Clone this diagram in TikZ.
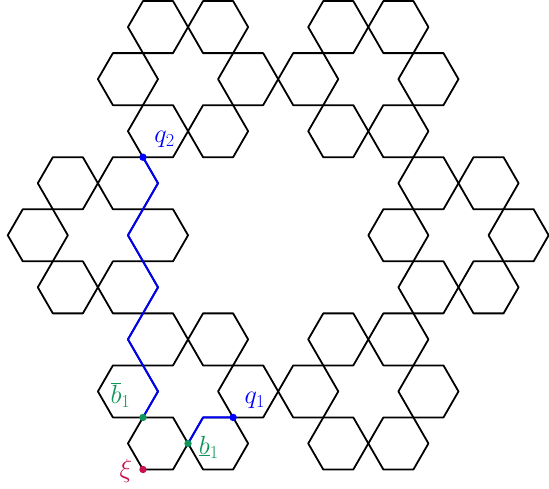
\documentclass[tikz,border=0pt]{standalone}
\usetikzlibrary{calc}
\definecolor{pathblue}{RGB}{0,0,255}
\definecolor{ptgreen}{RGB}{16,150,90}
\definecolor{ptred}{RGB}{200,16,80}
\tikzset{
  hexline/.style={line width=1.7pt, line join=round},
  pathline/.style={pathblue, line width=1.8pt, line join=round},
  dotnode/.style={circle, fill=#1, inner sep=0pt, minimum size=7pt},
  lab/.style={text=#1, font=\fontsize{23}{27}\selectfont, inner sep=0pt}
}
\begin{document}
\begin{tikzpicture}[x=1cm,y=1cm]
\useasboundingbox (-9.258,-8.443) rectangle (9.012,7.830);
% hexagon fractal: 6 clusters of 6 hexagons
\foreach \k in {0,...,5}{
  \foreach \j in {0,...,5}{
    \draw[hexline, shift={(60*\k:6)}, shift={(60*\j:2)}]
      (0:1) -- (60:1) -- (120:1) -- (180:1) -- (240:1) -- (300:1) -- cycle;
  }
}
% named points
\coordinate (q2) at (-4.5,2.598);
\coordinate (p1) at (-4,1.732);
\coordinate (p2) at (-5,0);
\coordinate (p3) at (-4,-1.732);
\coordinate (p4) at (-5,-3.464);
\coordinate (p5) at (-4,-5.196);
\coordinate (bb) at (-4.5,-6.062);
\coordinate (bu) at (-3,-6.928);
\coordinate (p6) at (-2.5,-6.062);
\coordinate (q1) at (-1.5,-6.062);
\coordinate (xi) at (-4.5,-7.794);
% blue paths
\draw[pathline] (q2) -- (p1) -- (p2) -- (p3) -- (p4) -- (p5) -- (bb);
\draw[pathline] (bu) -- (p6) -- (q1);
% dots
\node[dotnode=pathblue] (dq2) at (q2) {};
\node[dotnode=pathblue] (dq1) at (q1) {};
\node[dotnode=ptgreen] (dbb) at (bb) {};
\node[dotnode=ptgreen] (dbu) at (bu) {};
\node[dotnode=ptred] (dxi) at (xi) {};
% labels
\node[lab=pathblue] (lq2) at ($(q2)+(0.72,0.58)$) {$q_2$};
\node[lab=pathblue] (lq1) at ($(q1)+(0.72,0.58)$) {$q_1$};
\node[lab=ptgreen] (lbb) at ($(bb)+(-0.75,0.74)$) {$\overline{b}_1$};
\node[lab=ptgreen] (lbu) at ($(bu)+(0.69,-0.12)$) {$\underline{b}_1$};
\node[lab=ptred] (lxi) at ($(xi)+(-0.57,-0.05)$) {$\xi$};
\end{tikzpicture}
\end{document}
